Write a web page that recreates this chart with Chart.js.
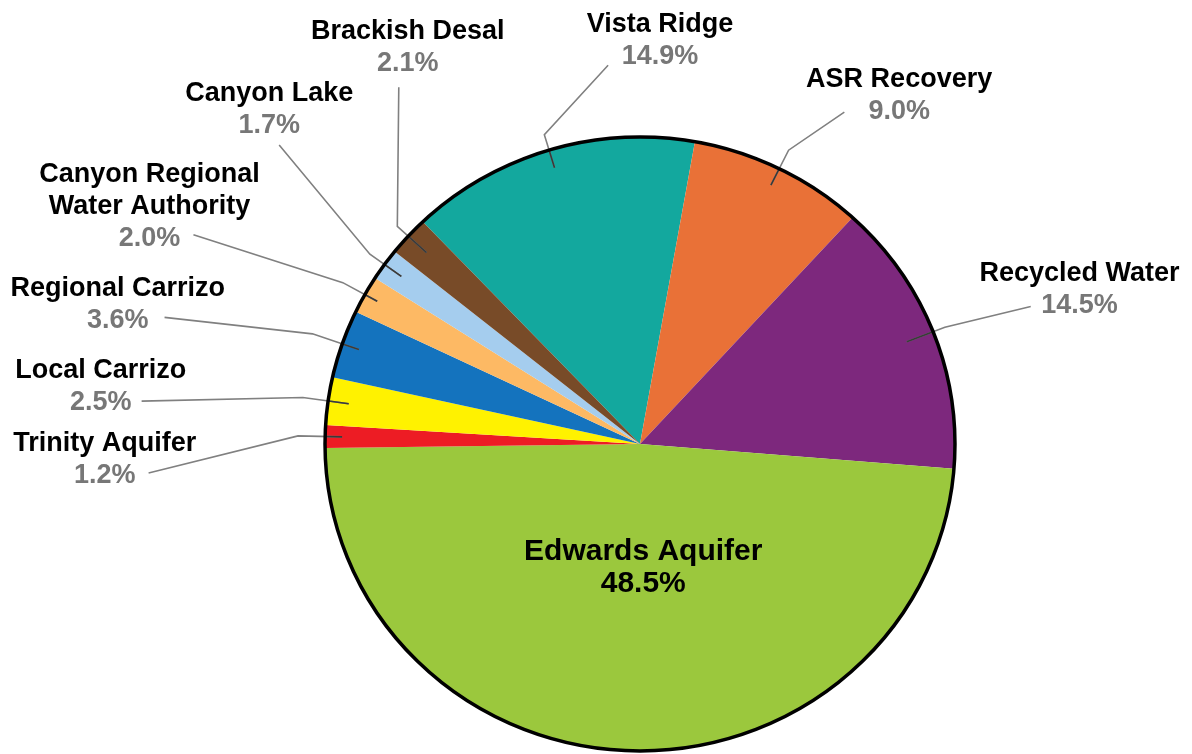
<!DOCTYPE html>
<html lang="en">
<head>
  <meta charset="UTF-8">
  <title>Water Supply Mix</title>
  <script src="https://cdn.jsdelivr.net/npm/chart.js"></script>
  <style>
    html, body { margin: 0; padding: 0; background: #fff; }
    canvas { display: block; }
  </style>
</head>
<body>
  <canvas id="myCanvas" width="1192" height="754"></canvas>
  <script>
    // slices, clockwise starting from Vista Ridge
    const categories = ["Vista Ridge", "ASR Recovery", "Recycled Water", "Edwards Aquifer",
      "Trinity Aquifer", "Local Carrizo", "Regional Carrizo",
      ["Canyon Regional", "Water Authority"], "Canyon Lake", "Brackish Desal"];
    const shares = [14.9, 9.0, 14.5, 48.5, 1.2, 2.5, 3.6, 2.0, 1.7, 2.1];
    const colors = ["#13a89e", "#e97137", "#7d287d", "#9bc83d", "#ed1c24",
      "#fff200", "#1473be", "#fdb964", "#a5cdee", "#784b28"];

    // label layout, px offsets from pie centre for a 308px radius
    // lx, ly = label centre / first line, ex, ey = end of leader line,
    // a = anchor inside slice, e = elbow (both as fraction of radius)
    const labelSpots = [
      { lx: 20,   ly: -423, ex: -32,  ey: -380, a: 0.94,  e: 1.052 },
      { lx: 260,  ly: -368, ex: 205,  ey: -333, a: 0.94,  e: 1.067 },
      { lx: 441,  ly: -173, ex: 392,  ey: -138, a: 0.91,  e: 1.04 },
      null,
      { lx: -537, ly: -3,   ex: -493, ey: 29,   a: 0.946, e: 1.086 },
      { lx: -541, ly: -76,  ex: -500, ey: -43,  a: 0.934, e: 1.081 },
      { lx: -524, ly: -158, ex: -477, ey: -127, a: 0.944, e: 1.10 },
      { lx: -492, ly: -273, ex: -448, ey: -210, a: 0.955, e: 1.08 },
      { lx: -372, ly: -354, ex: -362, ey: -300, a: 0.934, e: 1.057 },
      { lx: -233, ly: -416, ex: -242, ey: -358, a: 0.921, e: 1.047 }
    ];

    const fontFamily = '"Liberation Sans", Arial, sans-serif';
    const lineGap = 32;
    const stretchX = 1.026; // the original pie is a touch wider than tall

    function drawLines(ctx, lines, x, capY, size, colorsByLine) {
      ctx.font = "bold " + size + "px " + fontFamily;
      ctx.textAlign = "center";
      ctx.textBaseline = "alphabetic";
      lines.forEach((t, i) => {
        ctx.fillStyle = colorsByLine[i];
        ctx.fillText(t, x, capY + i * lineGap + 0.36 * size);
      });
    }

    const pieLabels = {
      id: "pieLabels",
      beforeDatasetsDraw(chart) {
        const ctx = chart.ctx;
        const cx = chart.getDatasetMeta(0).data[0].x;
        ctx.save();
        ctx.translate(cx, 0);
        ctx.scale(stretchX, 1);
        ctx.translate(-cx, 0);
      },
      afterDatasetsDraw(chart) {
        const ctx = chart.ctx;
        ctx.restore();
        const arcs = chart.getDatasetMeta(0).data;
        const cx = arcs[0].x, cy = arcs[0].y, R = arcs[0].outerRadius;
        const k = R / 308;
        const at = (ang, f) => [cx + Math.cos(ang) * R * f * stretchX, cy + Math.sin(ang) * R * f];

        const paths = [];
        arcs.forEach((arc, i) => {
          const spot = labelSpots[i];
          if (!spot) return;
          const mid = (arc.startAngle + arc.endAngle) / 2;
          paths.push([[cx + spot.ex * k, cy + spot.ey * k], at(mid, spot.e), at(mid, spot.a)]);
        });

        const strokePaths = (color) => {
          ctx.strokeStyle = color;
          ctx.lineWidth = 1.6;
          paths.forEach(p => {
            ctx.beginPath();
            ctx.moveTo(p[0][0], p[0][1]);
            ctx.lineTo(p[1][0], p[1][1]);
            ctx.lineTo(p[2][0], p[2][1]);
            ctx.stroke();
          });
        };

        ctx.save();
        strokePaths("#808080");
        ctx.beginPath();
        ctx.ellipse(cx, cy, R * stretchX, R, 0, 0, Math.PI * 2);
        ctx.clip();
        strokePaths("#3a3a3a");
        ctx.restore();

        // outer ring
        ctx.save();
        ctx.beginPath();
        ctx.ellipse(cx, cy, R * stretchX, R, 0, 0, Math.PI * 2);
        ctx.lineWidth = 3.5;
        ctx.strokeStyle = "#000";
        ctx.stroke();
        ctx.restore();

        // texts
        ctx.save();
        arcs.forEach((arc, i) => {
          const name = [].concat(categories[i]);
          const pct = shares[i].toFixed(1) + "%";
          const spot = labelSpots[i];
          if (spot) {
            const cols = name.map(() => "#000").concat(["#777777"]);
            drawLines(ctx, name.concat([pct]), cx + spot.lx * k, cy + spot.ly * k, 27, cols);
          } else {
            const mid = (arc.startAngle + arc.endAngle) / 2;
            const p = at(mid, 0.35);
            drawLines(ctx, name.concat([pct]), p[0] + 7, p[1] - 2, 30, ["#000", "#000"]);
          }
        });
        ctx.restore();
      }
    };

    new Chart(document.getElementById("myCanvas"), {
      type: "pie",
      data: {
        labels: categories,
        datasets: [{
          data: shares,
          backgroundColor: colors,
          borderWidth: 0
        }]
      },
      options: {
        responsive: false,
        animation: false,
        devicePixelRatio: 1,
        rotation: -43.6,
        layout: { padding: { top: 137, bottom: 3, left: 88, right: 0 } },
        plugins: {
          legend: { display: false },
          tooltip: { enabled: false }
        }
      },
      plugins: [pieLabels]
    });
  </script>
</body>
</html>
